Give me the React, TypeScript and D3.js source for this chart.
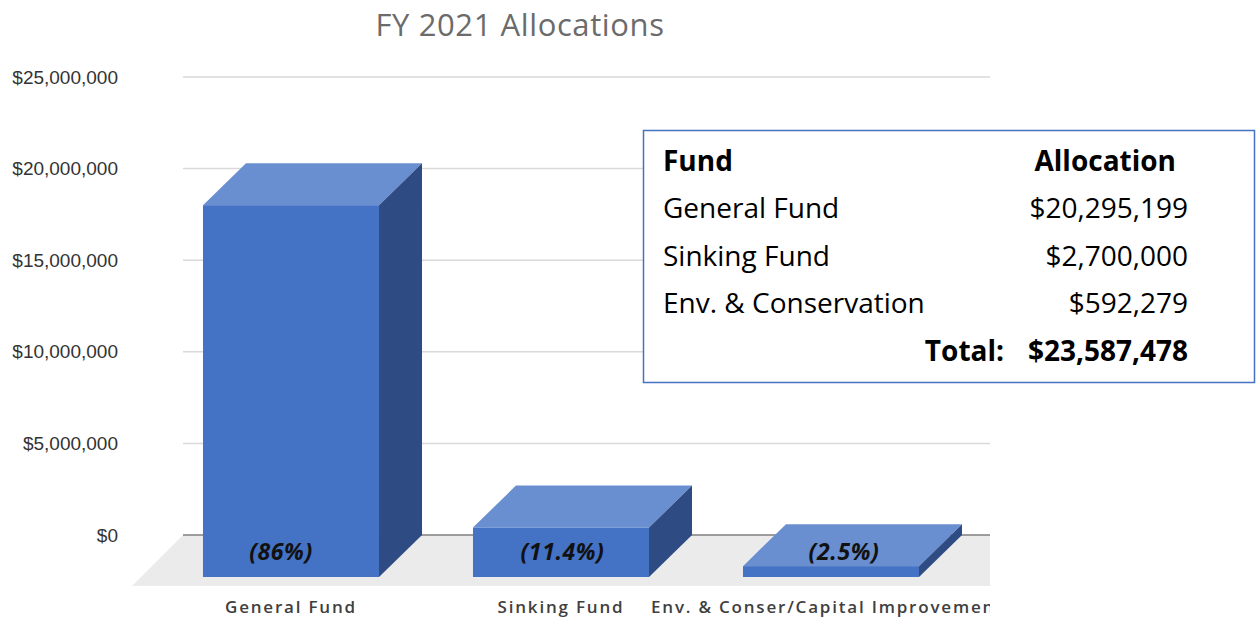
import React from "react";
import * as d3 from "d3";

const categories = ["General Fund", "Sinking Fund", "Env. & Conser/Capital Improvement"];
const values = [20295199, 2700000, 592279];
const percentLabels = ["(86%)", "(11.4%)", "(2.5%)"];
const yTicks = [0, 5000000, 10000000, 15000000, 20000000, 25000000];
const tableFunds = ["General Fund", "Sinking Fund", "Env. & Conservation"];
const tableAmounts = ["$20,295,199", "$2,700,000", "$592,279"];
const tableTotal = "$23,587,478";

const W = 1257;
const H = 620;
const DX = 43; // depth offset x (bars)
const DY = 42; // depth offset y (bars)
const FDX = 51; // floor depth
const FDY = 51;
const wallLeft = 183;
const wallRight = 990;

export default function App() {
  const y = d3.scaleLinear().domain([0, 25000000]).range([535, 77]);
  const x = d3
    .scaleBand<string>()
    .domain(categories)
    .range([156, 966])
    .paddingInner(0.348)
    .paddingOuter(0.174);
  const fmt = (v: number) => "$" + d3.format(",")(v);
  const y0 = y(0);
  const front0 = y0 + DY;

  const floor = [
    [wallLeft, y0],
    [wallRight + 100, y0],
    [wallRight + 100 - FDX, y0 + FDY],
    [wallLeft - FDX, y0 + FDY],
  ];

  return (
    <svg
      width={W}
      height={H}
      style={{ position: "absolute", left: 0, top: 0, background: "#fff" }}
    >
      <defs>
        <clipPath id="plotClip">
          <rect x={0} y={0} width={wallRight} height={H} />
        </clipPath>
      </defs>
      <text
        x={520}
        y={36}
        textAnchor="middle"
        fontFamily="Open Sans"
        fontSize={31}
        letterSpacing={0.6}
        fill="#6b6b6b"
      >
        FY 2021 Allocations
      </text>

      <g clipPath="url(#plotClip)">
        <polygon points={floor.map((p) => p.join(",")).join(" ")} fill="#ebebeb" />
        {yTicks.map((t) => (
          <line
            key={t}
            x1={wallLeft}
            x2={wallRight}
            y1={y(t)}
            y2={y(t)}
            stroke={t === 0 ? "#7f7f7f" : "#d9d9d9"}
            strokeWidth={1.5}
          />
        ))}
        {categories.map((c, i) => {
          const x0 = x(c)!;
          const x1 = x0 + x.bandwidth();
          const yt = y(values[i]) + DY;
          const top = [
            [x0, yt],
            [x0 + DX, yt - DY],
            [x1 + DX, yt - DY],
            [x1, yt],
          ];
          const side = [
            [x1, yt],
            [x1 + DX, yt - DY],
            [x1 + DX, front0 - DY],
            [x1, front0],
          ];
          return (
            <g key={c}>
              <polygon points={top.map((p) => p.join(",")).join(" ")} fill="#6a8fd1" />
              <polygon points={side.map((p) => p.join(",")).join(" ")} fill="#2f4b83" />
              <rect x={x0} y={yt} width={x1 - x0} height={front0 - yt} fill="#4472c4" />
              <text
                x={x0 + x.bandwidth() / 2 - 10 + i * 11.5}
                y={560}
                textAnchor="middle"
                fontFamily="Open Sans"
                fontWeight={700}
                fontStyle="italic"
                fontSize={23}
                letterSpacing={0.6}
                fill="#111"
              >
                {percentLabels[i]}
              </text>
            </g>
          );
        })}
        {categories.map((c, i) => (
          <text
            key={c}
            x={i < 2 ? x(c)! + x.bandwidth() / 2 : 651}
            y={613}
            textAnchor={i < 2 ? "middle" : "start"}
            fontFamily="Open Sans"
            fontWeight={600}
            fontSize={17}
            letterSpacing={1.8}
            fill="#404040"
          >
            {c}
          </text>
        ))}
      </g>

      {yTicks.map((t) => (
        <text
          key={t}
          x={118}
          y={y(t)}
          dy="0.35em"
          textAnchor="end"
          fontFamily="Liberation Sans"
          fontSize={19}
          fill="#333"
        >
          {fmt(t)}
        </text>
      ))}

      <g fontFamily="Open Sans" fontSize={28} fill="#000">
        <rect x={643.5} y={130.5} width={611} height={252} fill="#fff" stroke="#4472c4" strokeWidth={1.5} />
        <text x={663} y={171} fontWeight={700}>Fund</text>
        <text x={1176} y={171} fontWeight={700} textAnchor="end">Allocation</text>
        {tableFunds.map((f, i) => (
          <g key={f}>
            <text x={663} y={218 + i * 47.5}>{f}</text>
            <text x={1188} y={218 + i * 47.5} textAnchor="end">{tableAmounts[i]}</text>
          </g>
        ))}
        <text x={1004} y={361} fontWeight={700} textAnchor="end">Total:</text>
        <text x={1188} y={361} fontWeight={700} textAnchor="end">{tableTotal}</text>
      </g>
    </svg>
  );
}
